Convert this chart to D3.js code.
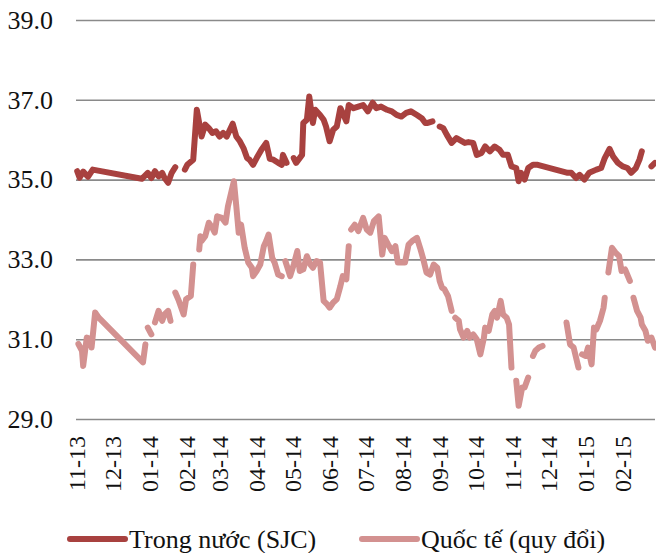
<!DOCTYPE html>
<html>
<head>
<meta charset="utf-8">
<script src="https://cdn.jsdelivr.net/npm/d3@7"></script>
<style>
  body { margin: 0; background: #fff; }
  svg { display: block; font-family: "Liberation Serif", "Times New Roman", serif; }
  .grid line { stroke: #8a8a8a; stroke-width: 1.6; }
  .grid text, .xaxis text { fill: #111; }
</style>
</head>
<body>
<div id="chart"></div>
<script>
// Giá vàng trong nước (SJC) và quốc tế quy đổi, triệu đồng/lượng
const seriesNames = ["Trong nước (SJC)", "Quốc tế (quy đổi)"];
const seriesColors = ["#a8413f", "#d39190"];
const yTicks = [29, 31, 33, 35, 37, 39];
const xDomain = ["2013-11-01", "2015-02-28"];

// null = ngày nghỉ, đường bị ngắt
const sjcSeries = [
  ["2013-11-02", 35.21], ["2013-11-04", 35.05], ["2013-11-07", 35.20], ["2013-11-11", 35.07],
  ["2013-11-15", 35.25], ["2013-12-26", 35.02], ["2013-12-31", 35.17], ["2014-01-03", 35.04],
  ["2014-01-06", 35.21], ["2014-01-09", 35.08], ["2014-01-12", 35.17], ["2014-01-14", 35.04],
  ["2014-01-17", 34.92], ["2014-01-20", 35.17], ["2014-01-23", 35.31], ["2014-01-27", null],
  ["2014-01-31", 35.25], ["2014-02-02", 35.37], ["2014-02-07", 35.50], ["2014-02-10", 36.75],
  ["2014-02-14", 36.08], ["2014-02-17", 36.38], ["2014-02-20", 36.29], ["2014-02-23", 36.17],
  ["2014-02-26", 36.21], ["2014-03-01", 36.08], ["2014-03-04", 36.17], ["2014-03-07", 36.08],
  ["2014-03-12", 36.40], ["2014-03-15", 36.08], ["2014-03-18", 35.96], ["2014-03-21", 35.79],
  ["2014-03-24", 35.54], ["2014-03-26", 35.50], ["2014-03-29", 35.37], ["2014-04-01", 35.54],
  ["2014-04-05", 35.75], ["2014-04-09", 35.92], ["2014-04-12", 35.52], ["2014-04-15", 35.50],
  ["2014-04-19", 35.42], ["2014-04-22", 35.37], ["2014-04-23", 35.62], ["2014-04-26", 35.42],
  ["2014-04-29", null], ["2014-05-02", 35.54], ["2014-05-04", 35.42], ["2014-05-09", 35.62],
  ["2014-05-10", 36.42], ["2014-05-13", 36.50], ["2014-05-15", 37.08], ["2014-05-18", 36.42],
  ["2014-05-20", 36.75], ["2014-05-24", 36.62], ["2014-05-27", 36.50], ["2014-05-29", 36.33],
  ["2014-06-01", 35.96], ["2014-06-04", 36.25], ["2014-06-07", 36.33], ["2014-06-10", 36.79],
  ["2014-06-12", 36.67], ["2014-06-15", 36.46], ["2014-06-17", 36.87], ["2014-06-21", 36.79],
  ["2014-06-25", 36.83], ["2014-06-29", 36.87], ["2014-07-03", 36.71], ["2014-07-07", 36.93],
  ["2014-07-10", 36.79], ["2014-07-14", 36.83], ["2014-07-19", 36.75], ["2014-07-23", 36.71],
  ["2014-07-27", 36.62], ["2014-07-31", 36.58], ["2014-08-04", 36.67], ["2014-08-08", 36.71],
  ["2014-08-13", 36.62], ["2014-08-17", 36.54], ["2014-08-20", 36.42], ["2014-08-22", 36.42],
  ["2014-08-26", 36.46], ["2014-08-29", null], ["2014-09-01", 36.33], ["2014-09-04", 36.29],
  ["2014-09-07", 36.12], ["2014-09-11", 35.92], ["2014-09-15", 36.04], ["2014-09-22", 35.92],
  ["2014-09-25", 35.94], ["2014-09-29", 35.92], ["2014-10-02", 35.62], ["2014-10-06", 35.67],
  ["2014-10-09", 35.83], ["2014-10-13", 35.71], ["2014-10-17", 35.83], ["2014-10-21", 35.75],
  ["2014-10-24", 35.62], ["2014-10-28", 35.62], ["2014-10-31", 35.33], ["2014-11-04", 35.29],
  ["2014-11-06", 34.96], ["2014-11-08", 35.17], ["2014-11-11", 35.00], ["2014-11-14", 35.29],
  ["2014-11-18", 35.37], ["2014-11-22", 35.37], ["2014-12-17", 35.17], ["2014-12-20", 35.17],
  ["2014-12-24", 35.04], ["2014-12-27", 35.12], ["2014-12-31", 35.00], ["2015-01-04", 35.17],
  ["2015-01-10", 35.25], ["2015-01-14", 35.29], ["2015-01-17", 35.54], ["2015-01-21", 35.77],
  ["2015-01-24", 35.58], ["2015-01-28", 35.42], ["2015-02-01", 35.33], ["2015-02-05", 35.29],
  ["2015-02-08", 35.17], ["2015-02-12", 35.29], ["2015-02-15", 35.50], ["2015-02-17", 35.71],
  ["2015-02-21", null], ["2015-02-25", 35.33], ["2015-02-28", 35.42]
];

const intlSeries = [
  ["2013-11-03", 30.88], ["2013-11-06", 30.71], ["2013-11-07", 30.33], ["2013-11-10", 31.04],
  ["2013-11-13", 31.00], ["2013-11-14", 30.79], ["2013-11-17", 31.67], ["2013-11-20", 31.54],
  ["2013-12-27", 30.42], ["2013-12-29", 30.87], ["2013-12-30", null], ["2013-12-31", 31.29],
  ["2014-01-03", 31.12], ["2014-01-04", null], ["2014-01-06", 31.42], ["2014-01-09", 31.71],
  ["2014-01-12", 31.46], ["2014-01-14", 31.62], ["2014-01-17", 31.71], ["2014-01-19", 31.46],
  ["2014-01-21", null], ["2014-01-23", 32.17], ["2014-01-26", 31.96], ["2014-01-30", 31.62],
  ["2014-02-01", 32.00], ["2014-02-05", 32.08], ["2014-02-07", 32.87], ["2014-02-10", null],
  ["2014-02-12", 33.25], ["2014-02-13", 33.58], ["2014-02-14", 33.46], ["2014-02-17", 33.58],
  ["2014-02-20", 33.92], ["2014-02-23", 33.79], ["2014-02-25", 33.67], ["2014-02-27", 34.08],
  ["2014-03-03", 34.04], ["2014-03-06", 33.92], ["2014-03-08", 34.33], ["2014-03-11", 34.71],
  ["2014-03-13", 34.96], ["2014-03-15", 34.33], ["2014-03-17", 33.67], ["2014-03-19", 33.87],
  ["2014-03-22", 33.29], ["2014-03-25", 32.92], ["2014-03-28", 32.79], ["2014-03-29", 32.58],
  ["2014-04-01", 32.71], ["2014-04-04", 32.87], ["2014-04-07", 33.33], ["2014-04-09", 33.46],
  ["2014-04-11", 33.62], ["2014-04-14", 33.04], ["2014-04-16", 32.92], ["2014-04-19", 32.62],
  ["2014-04-22", 32.58], ["2014-04-23", null], ["2014-04-25", 32.96], ["2014-04-29", 32.58],
  ["2014-05-02", 32.87], ["2014-05-05", 33.21], ["2014-05-07", 32.71], ["2014-05-10", 32.75],
  ["2014-05-13", 33.08], ["2014-05-16", 32.87], ["2014-05-18", 32.79], ["2014-05-21", 32.96],
  ["2014-05-24", 32.92], ["2014-05-27", 31.96], ["2014-05-30", 31.87], ["2014-06-01", 31.79],
  ["2014-06-04", 31.92], ["2014-06-07", 32.00], ["2014-06-10", 32.33], ["2014-06-12", 32.58],
  ["2014-06-15", 32.50], ["2014-06-17", 33.33], ["2014-06-18", null], ["2014-06-19", 33.75],
  ["2014-06-22", 33.87], ["2014-06-25", 33.71], ["2014-06-29", 34.04], ["2014-07-02", 33.75],
  ["2014-07-05", 33.67], ["2014-07-08", 33.96], ["2014-07-12", 34.08], ["2014-07-15", 33.12],
  ["2014-07-17", 33.54], ["2014-07-20", 33.37], ["2014-07-23", 33.21], ["2014-07-26", 33.33],
  ["2014-07-28", 32.92], ["2014-08-03", 32.92], ["2014-08-06", 33.37], ["2014-08-09", 33.46],
  ["2014-08-13", 33.54], ["2014-08-16", 33.25], ["2014-08-18", 33.04], ["2014-08-21", 32.67],
  ["2014-08-24", 32.62], ["2014-08-27", 32.87], ["2014-08-30", 32.79], ["2014-09-01", 32.46],
  ["2014-09-03", 32.29], ["2014-09-05", 32.25], ["2014-09-08", 32.08], ["2014-09-11", 31.71],
  ["2014-09-12", null], ["2014-09-14", 31.54], ["2014-09-17", 31.46], ["2014-09-18", 31.25],
  ["2014-09-21", 31.04], ["2014-09-24", 31.21], ["2014-09-26", 31.04], ["2014-09-29", 31.12],
  ["2014-10-02", 31.00], ["2014-10-05", 30.62], ["2014-10-08", 31.04], ["2014-10-09", 31.29],
  ["2014-10-12", 31.21], ["2014-10-15", 31.62], ["2014-10-17", 31.71], ["2014-10-19", 31.54],
  ["2014-10-22", 31.96], ["2014-10-24", 31.62], ["2014-10-27", 31.54], ["2014-10-29", 31.37],
  ["2014-10-31", 30.29], ["2014-11-02", null], ["2014-11-04", 29.96], ["2014-11-06", 29.33],
  ["2014-11-09", 29.79], ["2014-11-11", 29.79], ["2014-11-14", 30.04], ["2014-11-16", null],
  ["2014-11-18", 30.58], ["2014-11-20", 30.71], ["2014-11-23", 30.79], ["2014-11-26", 30.83],
  ["2014-12-01", null], ["2014-12-16", 31.42], ["2014-12-19", 30.87], ["2014-12-22", 30.79],
  ["2014-12-26", 30.29], ["2014-12-27", null], ["2014-12-29", 30.62], ["2015-01-01", 30.58],
  ["2015-01-03", 30.79], ["2015-01-06", 30.37], ["2015-01-08", 31.29], ["2015-01-10", 31.25],
  ["2015-01-13", 31.46], ["2015-01-16", 31.79], ["2015-01-17", 32.04], ["2015-01-18", null],
  ["2015-01-20", 32.67], ["2015-01-23", 33.29], ["2015-01-26", 33.17], ["2015-01-29", 33.08],
  ["2015-01-31", 32.71], ["2015-02-03", 32.75], ["2015-02-07", 32.46], ["2015-02-08", null],
  ["2015-02-10", 32.04], ["2015-02-13", 31.71], ["2015-02-16", 31.54], ["2015-02-17", 31.37],
  ["2015-02-20", 31.21], ["2015-02-22", 30.96], ["2015-02-25", 31.04], ["2015-02-28", 30.79]
];

const width = 656, height = 553;
const margin = { top: 20, right: 1, bottom: 134, left: 76 };
const parse = d3.timeParse("%Y-%m-%d");

const svg = d3.select("#chart").append("svg")
  .attr("width", width)
  .attr("height", height);

const x = d3.scaleTime()
  .domain(xDomain.map(parse))
  .range([margin.left, width - margin.right]);

const y = d3.scaleLinear()
  .domain([29, 39])
  .range([height - margin.bottom, margin.top]);

// luoi ngang + nhan truc tung
svg.append("g")
  .attr("class", "grid")
  .attr("transform", `translate(${margin.left},0)`)
  .call(d3.axisLeft(y)
    .tickValues(yTicks)
    .tickSize(-(width - margin.right - margin.left))
    .tickPadding(23)
    .tickFormat(d3.format(".1f")))
  .call(g => g.select(".domain").remove())
  .call(g => g.selectAll("text")
    .attr("font-size", 26)
    .attr("font-family", "Liberation Serif, serif"));

// truc hoanh: nhan thang xoay doc
const monthTicks = d3.timeMonth.range(parse("2013-11-01"), parse("2015-02-02"));
svg.append("g")
  .attr("class", "xaxis")
  .attr("transform", `translate(0,${height - margin.bottom})`)
  .call(d3.axisBottom(x)
    .tickValues(monthTicks)
    .tickSize(0)
    .tickFormat(d3.timeFormat("%m-%y")))
  .call(g => g.select(".domain").remove())
  .call(g => g.selectAll("text")
    .attr("font-size", 24)
    .attr("font-family", "Liberation Serif, serif")
    .attr("text-anchor", "end")
    .attr("transform", "rotate(-90)")
    .attr("x", -17)
    .attr("y", 0)
    .attr("dy", "0.34em"));

const line = d3.line()
  .defined(d => d[1] != null)
  .x(d => x(parse(d[0])))
  .y(d => y(d[1]));

[intlSeries, sjcSeries].forEach((series, i) => {
  svg.append("path")
    .datum(series)
    .attr("fill", "none")
    .attr("stroke", seriesColors[1 - i])
    .attr("stroke-width", 6)
    .attr("stroke-linejoin", "round")
    .attr("stroke-linecap", "round")
    .attr("d", line);
});

// chu giai
const legend = svg.append("g").attr("transform", "translate(0,539)");
const legendX = [70, 362];
seriesNames.forEach((name, i) => {
  const item = legend.append("g").attr("transform", `translate(${legendX[i]},0)`);
  item.append("line")
    .attr("x1", 0).attr("x2", 55)
    .attr("stroke", seriesColors[i])
    .attr("stroke-width", 6)
    .attr("stroke-linecap", "round");
  item.append("text")
    .attr("x", 59)
    .attr("dy", "0.34em")
    .attr("font-size", 26)
    .attr("fill", "#111")
    .text(name);
});
</script>
</body>
</html>
